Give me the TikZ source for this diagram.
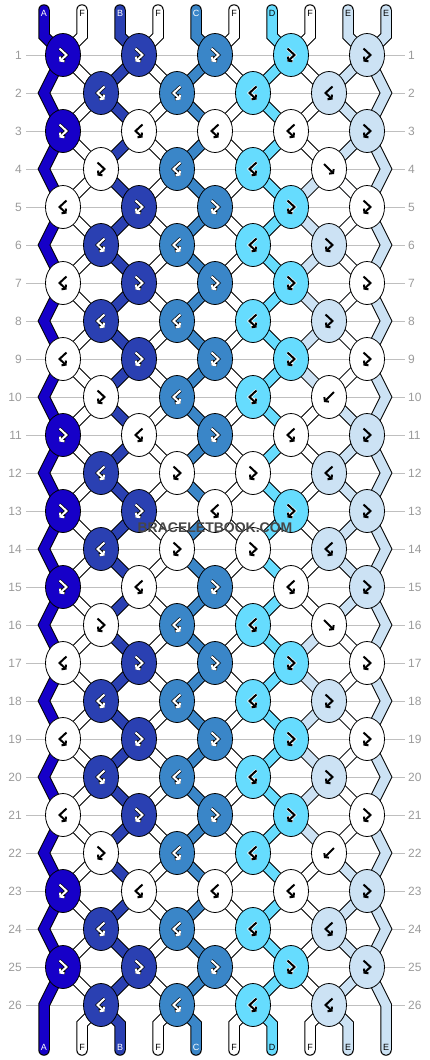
\documentclass[tikz,border=0pt]{standalone}
\usepackage{fontspec}
\setmainfont{Liberation Sans}
\usetikzlibrary{arrows.meta, shapes.geometric}

\definecolor{cA}{HTML}{1600C8}
\definecolor{cB}{HTML}{2A40B2}
\definecolor{cC}{HTML}{3A86C8}
\definecolor{cD}{HTML}{66DCFE}
\definecolor{cE}{HTML}{CCE2F4}
\definecolor{cF}{HTML}{FFFFFF}
\definecolor{rowgray}{HTML}{BFBFBF}
\definecolor{numgray}{HTML}{9A9A9A}

% ink of the knot symbols, and their rim
\def\inkcA{white}\def\inkcB{white}\def\inkcC{white}
\def\inkcD{black}\def\inkcE{black}\def\inkcF{black}
\def\rimcA{black}\def\rimcB{black}\def\rimcC{black}
\def\rimcD{white}\def\rimcE{cE}\def\rimcF{white}

% knot symbols: forward, backward, forward-backward, backward-forward
\newcommand{\symf}[1]{(-5,-5) -- (5,5)}
\newcommand{\symb}[1]{(5,-5) -- (-5,5)}
\newcommand{\symfb}[1]{(-3.5,-6.5) -- (3.5,0) -- (-3.5,6.5)}
\newcommand{\symbf}[1]{(3.5,-6.5) -- (-3.5,0) -- (3.5,6.5)}

% one row of knots: #1 row number, #2 list of colour/type
\newcommand{\knotrow}[2]{%
  \foreach \kc/\kt [count=\k from 0] in {#2}{%
    \pgfmathsetmacro{\kx}{isodd(#1) ? 63+76*\k : 101+76*\k}%
    \pgfmathsetmacro{\ky}{55+38*(#1-1)}%
    \node[knot, fill=\kc] (k#1-\k) at (\kx,\ky) {};
    \draw[symrim, draw=\csname rim\kc\endcsname, shift={(\kx,\ky)}] \csname sym\kt\endcsname{};
    \draw[sym, draw=\csname ink\kc\endcsname, shift={(\kx,\ky)}] \csname sym\kt\endcsname{};
  }%
}

\begin{document}
\begin{tikzpicture}[
    x=1pt, y=-1pt,
    knot/.style={ellipse, draw, line width=0.8pt, minimum width=35pt, minimum height=43pt, inner sep=0pt},
    sym/.style={line width=2pt, line join=miter, -{Straight Barb[length=2.5pt, width=6.5pt]}},
    symrim/.style={line width=3.4pt, line join=miter, -{Straight Barb[length=2.5pt, width=6.5pt]}},
    strandline/.style={line width=11.5pt, line cap=round, line join=miter},
    strandfill/.style={line width=9.5pt, line cap=round, line join=miter},
    rowline/.style={rowgray, line width=0.8pt},
    rowlabel/.style={text=numgray, font=\fontsize{12}{12}\selectfont, inner sep=0pt},
    tag/.style={font=\fontsize{9}{9}\selectfont, inner sep=0pt},
    watermark/.style={font=\bfseries\fontsize{14}{14}\selectfont, inner sep=0pt}
]
\useasboundingbox (0,0) rectangle (430,1060);

% Row lines and numbers
\foreach \r in {1,...,26}{
  \pgfmathsetmacro{\ry}{55+38*(\r-1)}
  \draw[rowline] (26,\ry) -- (405,\ry);
  \node[rowlabel, anchor=east] (nl\r) at (22,\ry) {\r};
  \node[rowlabel, anchor=west] (nr\r) at (408,\ry) {\r};
}

% Points of the strings
\foreach \p in {0,...,9}{
  \coordinate (t\p) at ({44+38*\p},10);
  \coordinate (u\p) at ({44+38*\p},36);
  \coordinate (v\p) at ({44+38*\p},1024);
  \coordinate (w\p) at ({44+38*\p},1050);
  \foreach \r in {1,...,26}{
    \pgfmathsetmacro{\sx}{isodd(\r) ? 63+76*floor(\p/2) : max(44,min(386,101+76*floor((\p-1)/2)))}
    \coordinate (s\r-\p) at (\sx,{55+38*(\r-1)});
  }
}

% Strands
\foreach \p in {0,...,9}
  \draw[strandline] (t\p) -- (u\p) foreach \r in {1,...,26}{ -- (s\r-\p)} -- (v\p) -- (w\p);
\foreach \p/\c in {0/cA, 1/cF, 2/cB, 3/cF, 4/cC, 5/cF, 6/cD, 7/cF, 8/cE, 9/cE}
  \draw[strandfill, draw=\c] (t\p) -- (u\p) foreach \r in {1,...,26}{ -- (s\r-\p)} -- (v\p) -- (w\p);
% E and F swapped between rows 4-10 and 16-22
\foreach \a/\b in {4/10, 16/22}{
  \draw[strandfill, draw=cE] (s\a-7) foreach \r in {\a,...,\b}{ -- (s\r-7)};
  \draw[strandfill, draw=cF] (s\a-8) foreach \r in {\a,...,\b}{ -- (s\r-8)};
}

% String letters
\foreach \p/\lab/\ink in {0/A/white, 1/F/black, 2/B/white, 3/F/black, 4/C/white, 5/F/black, 6/D/black, 7/F/black, 8/E/black, 9/E/black}{
  \node[tag, text=\ink] (top\p) at ({44+38*\p},13) {\lab};
  \node[tag, text=\ink] (bot\p) at ({44+38*\p},1047) {\lab};
}

% Row 1 to 6
\knotrow{1}{cA/fb, cB/fb, cC/fb, cD/fb, cE/fb}
\knotrow{2}{cB/bf, cC/bf, cD/bf, cE/bf}
\knotrow{3}{cA/fb, cF/bf, cF/bf, cF/bf, cE/fb}
\knotrow{4}{cF/fb, cC/bf, cD/bf, cF/f}
\knotrow{5}{cF/bf, cB/fb, cC/fb, cD/fb, cF/fb}
\knotrow{6}{cB/bf, cC/bf, cD/bf, cE/fb}
% Row 7 to 12
\knotrow{7}{cF/bf, cB/fb, cC/fb, cD/fb, cF/fb}
\knotrow{8}{cB/bf, cC/bf, cD/bf, cE/fb}
\knotrow{9}{cF/bf, cB/fb, cC/fb, cD/fb, cF/fb}
\knotrow{10}{cF/fb, cC/bf, cD/bf, cF/b}
\knotrow{11}{cA/fb, cF/bf, cC/fb, cF/bf, cE/fb}
\knotrow{12}{cB/bf, cF/fb, cF/fb, cE/bf}
% Row 13 to 18
\knotrow{13}{cA/fb, cB/fb, cF/bf, cD/fb, cE/fb}
\knotrow{14}{cB/bf, cF/fb, cF/fb, cE/bf}
\knotrow{15}{cA/fb, cF/bf, cC/fb, cF/bf, cE/fb}
\knotrow{16}{cF/fb, cC/bf, cD/bf, cF/f}
\knotrow{17}{cF/bf, cB/fb, cC/fb, cD/fb, cF/fb}
\knotrow{18}{cB/bf, cC/bf, cD/bf, cE/fb}
% Row 19 to 26
\knotrow{19}{cF/bf, cB/fb, cC/fb, cD/fb, cF/fb}
\knotrow{20}{cB/bf, cC/bf, cD/bf, cE/fb}
\knotrow{21}{cF/bf, cB/fb, cC/fb, cD/fb, cF/fb}
\knotrow{22}{cF/fb, cC/bf, cD/bf, cF/b}
\knotrow{23}{cA/fb, cF/bf, cF/bf, cF/bf, cE/fb}
\knotrow{24}{cB/bf, cC/bf, cD/bf, cE/bf}
\knotrow{25}{cA/fb, cB/fb, cC/fb, cD/fb, cE/fb}
\knotrow{26}{cB/bf, cC/bf, cD/bf, cE/bf}

% Watermark
\node[watermark, text=black!72] (wm) at (215,528) {BRACELETBOOK.COM};

\end{tikzpicture}
\end{document}
